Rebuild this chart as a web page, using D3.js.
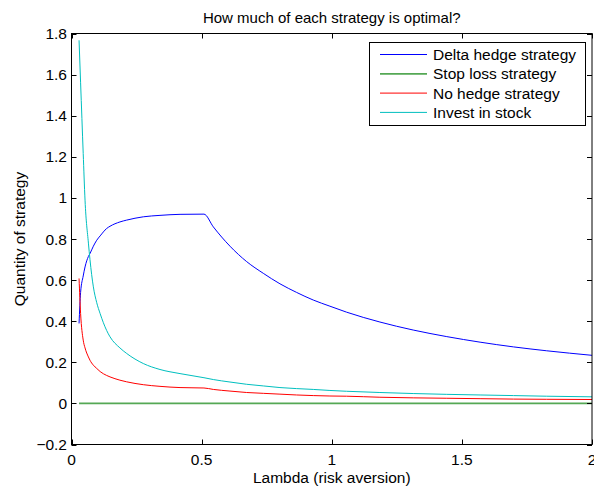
<!DOCTYPE html>
<html lang="en">
<head>
  <meta charset="UTF-8">
  <title>How much of each strategy is optimal?</title>
  <script src="https://d3js.org/d3.v7.min.js"></script>
  <style>
    body {
      margin: 0;
      background: #fff;
    }
    svg {
      display: block;
      font-family: "Liberation Sans", Arial, sans-serif;
    }
  </style>
</head>
<body>
  <script>
    const width = 594;
    const height = 490;

    // lambda values
    const lambda = [0.029, 0.035, 0.045, 0.052, 0.065, 0.071, 0.084, 0.097, 0.110, 0.135,
      0.148, 0.186, 0.212, 0.276, 0.340, 0.417, 0.509, 0.545, 0.609, 0.673,
      0.737, 0.801, 0.865, 0.929, 0.993, 1.057, 1.185, 1.313, 1.442, 1.570,
      1.698, 1.826, 2.0];

    const deltaHedge = [0.389, 0.54, 0.62, 0.664, 0.715, 0.729, 0.765, 0.794, 0.815, 0.851,
      0.862, 0.883, 0.892, 0.908, 0.915, 0.920, 0.921, 0.859, 0.765, 0.690,
      0.633, 0.582, 0.540, 0.503, 0.473, 0.444, 0.396, 0.357, 0.325, 0.298,
      0.275, 0.256, 0.234];

    const stopLoss = [0, 0, 0, 0, 0, 0, 0, 0, 0, 0,
      0, 0, 0, 0, 0, 0, 0, 0, 0, 0,
      0, 0, 0, 0, 0, 0, 0, 0, 0, 0,
      0, 0, 0];

    const noHedge = [0.608, 0.437, 0.308, 0.27, 0.226, 0.21, 0.186, 0.170, 0.155, 0.136,
      0.129, 0.113, 0.105, 0.091, 0.083, 0.077, 0.075, 0.068, 0.060, 0.053,
      0.049, 0.045, 0.041, 0.038, 0.036, 0.035, 0.030, 0.027, 0.025, 0.023,
      0.021, 0.020, 0.019];

    const investStock = [1.767, 1.56, 1.216, 0.989, 0.78, 0.70, 0.567, 0.49, 0.437, 0.355,
      0.324, 0.27, 0.243, 0.194, 0.165, 0.145, 0.125, 0.116, 0.104, 0.093,
      0.085, 0.077, 0.072, 0.068, 0.063, 0.059, 0.053, 0.048, 0.044, 0.041,
      0.038, 0.035, 0.032];

    const seriesNames = ["Delta hedge strategy", "Stop loss strategy", "No hedge strategy", "Invest in stock"];
    const seriesColors = ["#0000ff", "#55a855", "#ff0000", "#00bfbf"];
    const seriesValues = [deltaHedge, stopLoss, noHedge, investStock];

    const xTicks = [0, 0.5, 1, 1.5, 2];
    const yTicks = [-0.2, 0, 0.2, 0.4, 0.6, 0.8, 1, 1.2, 1.4, 1.6, 1.8];

    const plotLeft = 71.5, plotRight = 592, plotTop = 33.5, plotBottom = 444.5;

    const x = d3.scaleLinear().domain([0, 2]).range([plotLeft, plotRight]);
    const y = d3.scaleLinear().domain([-0.2, 1.8]).range([plotBottom, plotTop]);

    const svg = d3.select("body")
      .append("svg")
      .attr("width", width)
      .attr("height", height);

    const fmt = d => d < 0 ? "\u2212" + Math.abs(d) : String(d);

    // curves
    const line = d3.line()
      .x(d => x(d[0]))
      .y(d => y(d[1]))
      .curve(d3.curveMonotoneX);

    seriesValues.forEach((vals, i) => {
      svg.append("path")
        .datum(lambda.map((l, j) => [l, vals[j]]))
        .attr("fill", "none")
        .attr("stroke", seriesColors[i])
        .attr("stroke-width", i === 1 ? 1.8 : 1)
        .attr("d", line);
    });

    // axes (MATLAB style, ticks inward, box on)
    const tick = 5;
    const axisG = svg.append("g").attr("stroke", "#000").attr("stroke-width", 1);

    axisG.append("rect")
      .attr("x", plotLeft).attr("y", plotTop)
      .attr("width", plotRight - plotLeft).attr("height", plotBottom - plotTop)
      .attr("fill", "none");

    xTicks.forEach(t => {
      const px = Math.round(x(t)) + 0.5;
      axisG.append("line").attr("x1", px).attr("x2", px).attr("y1", plotBottom).attr("y2", plotBottom - tick);
      axisG.append("line").attr("x1", px).attr("x2", px).attr("y1", plotTop).attr("y2", plotTop + tick);
    });
    yTicks.forEach(t => {
      const py = Math.round(y(t)) + 0.5;
      axisG.append("line").attr("x1", plotLeft).attr("x2", plotLeft + tick).attr("y1", py).attr("y2", py);
      axisG.append("line").attr("x1", plotRight).attr("x2", plotRight - tick).attr("y1", py).attr("y2", py);
    });

    svg.append("g")
      .selectAll("text")
      .data(xTicks)
      .enter()
      .append("text")
      .attr("x", d => x(d))
      .attr("y", 465)
      .attr("text-anchor", "middle")
      .attr("font-size", 15.5)
      .text(fmt);

    svg.append("g")
      .selectAll("text")
      .data(yTicks)
      .enter()
      .append("text")
      .attr("x", 67)
      .attr("y", d => y(d) + 5.5)
      .attr("text-anchor", "end")
      .attr("font-size", 15.5)
      .text(fmt);

    // title and labels
    svg.append("text")
      .attr("x", (plotLeft + plotRight) / 2)
      .attr("y", 23)
      .attr("text-anchor", "middle")
      .attr("font-size", 15)
      .text("How much of each strategy is optimal?");

    svg.append("text")
      .attr("x", (plotLeft + plotRight) / 2)
      .attr("y", 483)
      .attr("text-anchor", "middle")
      .attr("font-size", 15.5)
      .text("Lambda (risk aversion)");

    svg.append("text")
      .attr("transform", `translate(25,${(plotTop + plotBottom) / 2}) rotate(-90)`)
      .attr("text-anchor", "middle")
      .attr("font-size", 15.5)
      .text("Quantity of strategy");

    // legend
    const legend = svg.append("g");
    legend.append("rect")
      .attr("x", 369.5).attr("y", 42.5)
      .attr("width", 216).attr("height", 83)
      .attr("fill", "#fff")
      .attr("stroke", "#000");

    seriesNames.forEach((name, i) => {
      const ly = 54.5 + i * 19.3;
      legend.append("line")
        .attr("x1", 380).attr("x2", 427)
        .attr("y1", ly).attr("y2", ly)
        .attr("stroke", seriesColors[i])
        .attr("stroke-width", i === 1 ? 1.8 : 1);
      legend.append("text")
        .attr("x", 433)
        .attr("y", ly + 5.5)
        .attr("font-size", 15.5)
        .text(name);
    });
  </script>
</body>
</html>
